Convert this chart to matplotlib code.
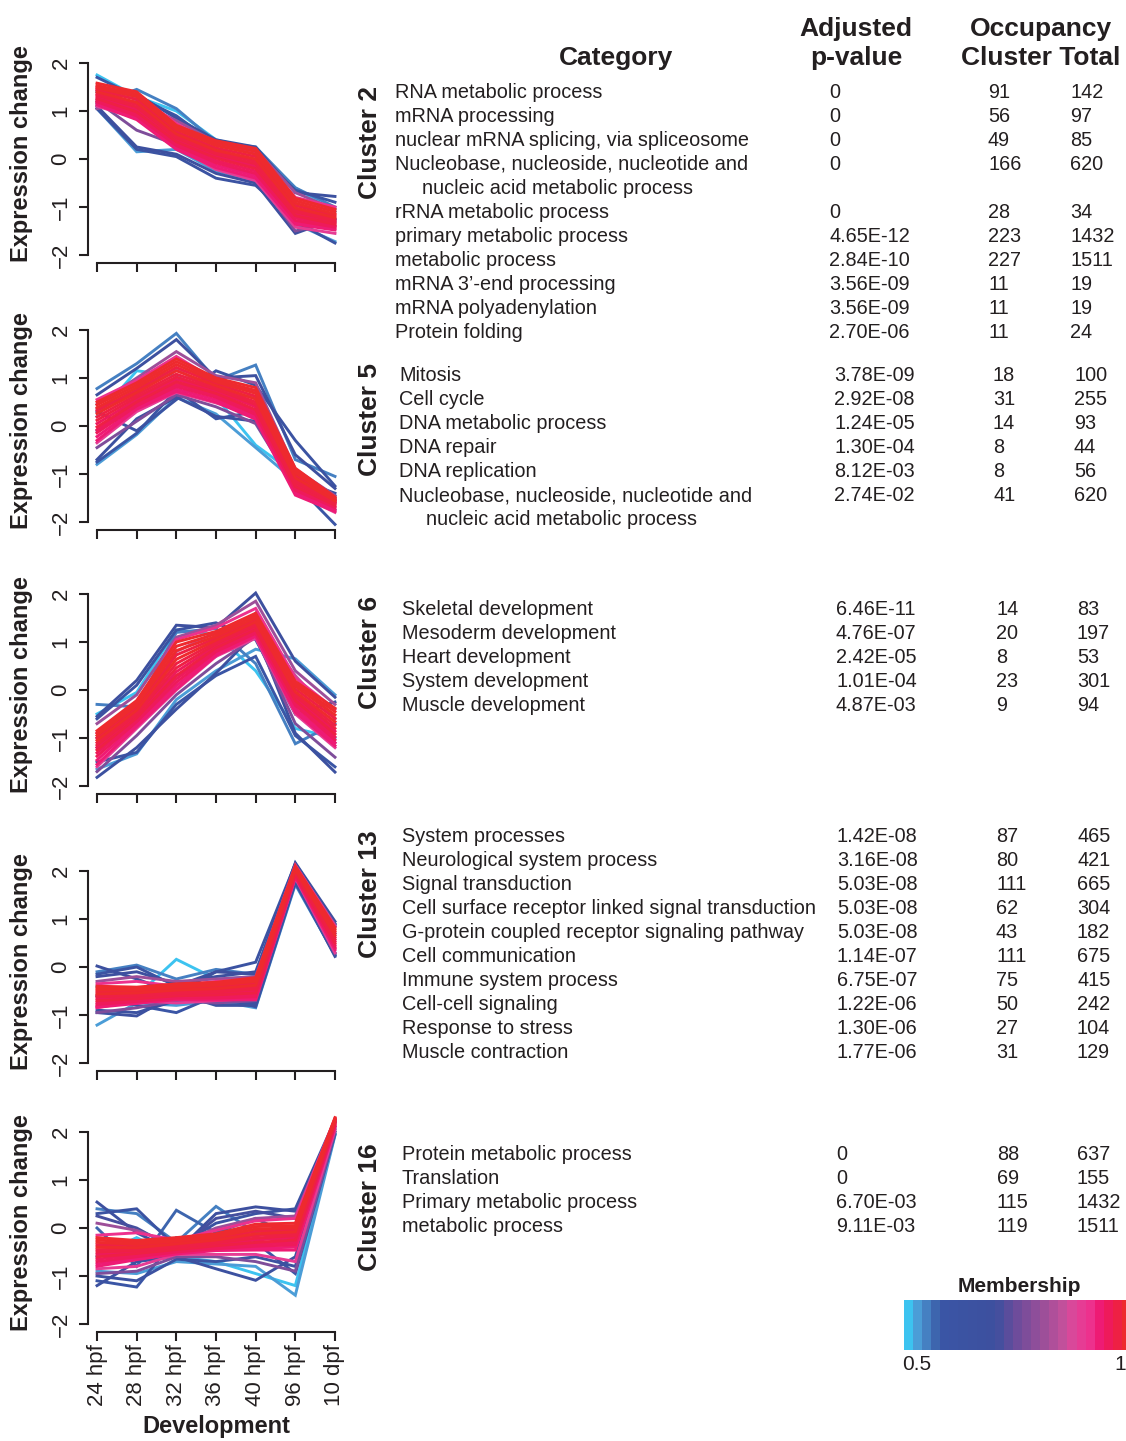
import numpy as np
import matplotlib.pyplot as plt
from matplotlib.colors import LinearSegmentedColormap, Normalize
from matplotlib.colorbar import ColorbarBase

plt.rcParams['font.family'] = ['Liberation Sans', 'DejaVu Sans']

stages = ["24 hpf", "28 hpf", "32 hpf", "36 hpf", "40 hpf", "96 hpf", "10 dpf"]

# expression profiles (one row = one gene), with membership
c2_membership = [1.0, 0.99, 0.98, 0.97, 0.96, 0.95, 0.94, 0.90, 0.88, 0.80, 0.76,
                 0.68, 0.66, 0.62, 0.60, 0.54, 0.52, 0.50,
                 0.985, 0.975, 0.965, 0.955, 0.945, 0.935, 0.85, 0.82]
c2_profiles = [
    [1.58, 1.40, 0.70, 0.38, 0.22, -0.82, -1.05],
    [1.48, 1.30, 0.62, 0.28, 0.10, -0.92, -1.15],
    [1.40, 1.18, 0.52, 0.18, 0.00, -1.02, -1.22],
    [1.33, 1.08, 0.44, 0.10, -0.10, -1.10, -1.30],
    [1.26, 0.98, 0.36, 0.02, -0.20, -1.18, -1.36],
    [1.19, 0.90, 0.28, -0.08, -0.30, -1.28, -1.42],
    [1.13, 0.82, 0.20, -0.18, -0.40, -1.36, -1.48],
    [1.50, 1.35, 0.74, 0.30, 0.15, -0.80, -1.00],
    [1.10, 0.85, 0.25, -0.22, -0.45, -1.42, -1.55],
    [1.05, 1.20, 0.80, 0.35, 0.20, -0.70, -1.05],
    [1.20, 0.60, 0.30, -0.05, -0.35, -1.50, -1.30],
    [1.10, 0.25, 0.10, -0.30, -0.50, -1.55, -1.25],
    [1.40, 1.35, 0.85, 0.40, 0.25, -0.70, -0.78],
    [1.05, 0.20, 0.05, -0.40, -0.55, -1.30, -1.75],
    [1.70, 1.30, 0.90, 0.30, 0.15, -0.65, -0.90],
    [1.15, 1.45, 1.05, 0.35, 0.25, -0.60, -1.00],
    [1.05, 0.15, 0.20, -0.25, -0.45, -1.35, -1.72],
    [1.75, 1.30, 1.00, 0.40, 0.20, -0.60, -1.10],
    [1.53, 1.35, 0.66, 0.33, 0.16, -0.87, -1.10],
    [1.44, 1.24, 0.57, 0.23, 0.05, -0.97, -1.18],
    [1.36, 1.13, 0.48, 0.14, -0.05, -1.06, -1.26],
    [1.30, 1.03, 0.40, 0.06, -0.15, -1.14, -1.33],
    [1.22, 0.94, 0.32, -0.03, -0.25, -1.23, -1.39],
    [1.16, 0.86, 0.24, -0.13, -0.35, -1.32, -1.45],
    [1.45, 1.25, 0.55, 0.20, -0.05, -1.05, -1.40],
    [1.25, 1.00, 0.45, 0.05, -0.15, -1.20, -1.25],
]

c5_membership = [1.0, 0.99, 0.98, 0.97, 0.96, 0.95, 0.94, 0.90, 0.88, 0.80, 0.76,
                 0.68, 0.66, 0.62, 0.60, 0.54, 0.52, 0.50,
                 0.985, 0.975, 0.965, 0.955, 0.945, 0.935, 0.85, 0.82]
c5_profiles = [
    [0.50, 0.90, 1.40, 1.00, 0.80, -0.88, -1.48],
    [0.38, 0.80, 1.28, 0.92, 0.68, -0.98, -1.52],
    [0.26, 0.70, 1.15, 0.84, 0.56, -1.08, -1.56],
    [0.12, 0.60, 1.02, 0.76, 0.45, -1.18, -1.60],
    [-0.02, 0.50, 0.92, 0.68, 0.34, -1.26, -1.65],
    [-0.14, 0.42, 0.82, 0.60, 0.24, -1.34, -1.70],
    [-0.30, 0.35, 0.72, 0.50, 0.14, -1.44, -1.78],
    [0.55, 0.95, 1.45, 0.95, 0.70, -1.00, -1.55],
    [-0.35, 0.30, 0.70, 0.48, 0.20, -1.40, -1.80],
    [0.45, 1.00, 1.55, 1.05, 0.90, -0.90, -1.45],
    [-0.45, 0.10, 0.65, 0.40, 0.05, -1.30, -1.75],
    [0.65, 1.20, 1.80, 1.00, 1.05, -0.60, -1.30],
    [-0.70, 0.15, 0.60, 0.20, 0.10, -1.10, -1.40],
    [0.30, -0.10, 0.55, 1.15, 0.85, -0.30, -1.25],
    [-0.75, -0.15, 0.75, 0.15, 0.30, -1.20, -2.05],
    [0.78, 1.30, 1.93, 0.95, 1.27, -0.70, -1.05],
    [-0.80, -0.18, 0.60, 0.25, -0.45, -1.15, -1.50],
    [0.20, 1.15, 1.05, 0.60, -0.40, -1.00, -1.45],
    [0.44, 0.85, 1.34, 0.96, 0.74, -0.93, -1.50],
    [0.32, 0.75, 1.22, 0.88, 0.62, -1.03, -1.54],
    [0.19, 0.65, 1.08, 0.80, 0.50, -1.13, -1.58],
    [0.05, 0.55, 0.97, 0.72, 0.40, -1.22, -1.62],
    [-0.08, 0.46, 0.87, 0.64, 0.29, -1.30, -1.68],
    [-0.22, 0.38, 0.77, 0.55, 0.19, -1.39, -1.74],
    [0.35, 0.70, 1.20, 0.70, 0.60, -1.25, -1.60],
    [-0.10, 0.55, 0.85, 0.85, 0.40, -1.15, -1.55],
]

c6_membership = [1.0, 0.99, 0.98, 0.97, 0.96, 0.95, 0.94, 0.90, 0.88, 0.80, 0.76,
                 0.68, 0.66, 0.62, 0.60, 0.54, 0.52, 0.50,
                 0.985, 0.975, 0.965, 0.955, 0.945, 0.935, 0.85, 0.82]
c6_profiles = [
    [-0.85, -0.22, 1.00, 1.22, 1.60, 0.18, -0.38],
    [-0.95, -0.32, 0.82, 1.12, 1.50, 0.08, -0.52],
    [-1.05, -0.42, 0.64, 1.04, 1.42, -0.04, -0.66],
    [-1.15, -0.50, 0.46, 0.96, 1.34, -0.12, -0.80],
    [-1.25, -0.58, 0.30, 0.88, 1.26, -0.22, -0.92],
    [-1.38, -0.66, 0.16, 0.80, 1.18, -0.32, -1.04],
    [-1.55, -0.76, 0.02, 0.72, 1.12, -0.46, -1.16],
    [-0.90, -0.30, 1.05, 1.30, 1.70, 0.25, -0.40],
    [-1.60, -0.80, 0.00, 0.70, 1.08, -0.50, -1.20],
    [-0.70, -0.10, 1.10, 1.35, 1.85, 0.40, -0.30],
    [-1.70, -0.95, -0.10, 0.55, 1.10, -0.70, -1.40],
    [-0.55, 0.20, 1.35, 1.30, 2.02, 0.60, -0.15],
    [-1.82, -1.20, -0.40, 0.35, 1.20, -0.90, -1.71],
    [-0.60, 0.10, 1.25, 1.40, 1.05, -0.50, -0.25],
    [-1.50, -1.30, -0.30, 0.30, 0.70, -0.95, -1.60],
    [-0.30, -0.35, 1.20, 1.28, 0.55, -1.12, -0.70],
    [-1.65, -1.33, -0.20, 0.40, 0.85, 0.65, -0.10],
    [-0.50, -0.05, 1.25, 1.15, 0.40, -0.80, -1.00],
    [-0.90, -0.27, 0.91, 1.17, 1.55, 0.13, -0.45],
    [-1.00, -0.37, 0.73, 1.08, 1.46, 0.02, -0.59],
    [-1.10, -0.46, 0.55, 1.00, 1.38, -0.08, -0.73],
    [-1.20, -0.54, 0.38, 0.92, 1.30, -0.17, -0.86],
    [-1.31, -0.62, 0.23, 0.84, 1.22, -0.27, -0.98],
    [-1.46, -0.71, 0.09, 0.76, 1.15, -0.39, -1.10],
    [-1.20, -0.70, 0.80, 1.20, 1.45, 0.30, -0.60],
    [-1.00, -0.40, 0.30, 0.70, 1.60, -0.40, -1.10],
]

c13_membership = [1.0, 0.99, 0.98, 0.97, 0.96, 0.95, 0.94, 0.90, 0.88, 0.80, 0.76,
                  0.68, 0.66, 0.62, 0.60, 0.54, 0.52, 0.50,
                  0.985, 0.975, 0.965, 0.955, 0.945, 0.935, 0.70, 0.64]
c13_profiles = [
    [-0.40, -0.42, -0.35, -0.32, -0.22, 2.10, 0.82],
    [-0.48, -0.48, -0.42, -0.38, -0.30, 2.06, 0.74],
    [-0.56, -0.54, -0.48, -0.45, -0.38, 2.02, 0.66],
    [-0.62, -0.60, -0.54, -0.52, -0.46, 1.98, 0.58],
    [-0.70, -0.66, -0.60, -0.58, -0.54, 1.94, 0.50],
    [-0.78, -0.72, -0.65, -0.65, -0.62, 1.90, 0.42],
    [-0.84, -0.76, -0.68, -0.69, -0.68, 1.88, 0.36],
    [-0.35, -0.30, -0.40, -0.30, -0.25, 2.12, 0.85],
    [-0.85, -0.70, -0.75, -0.70, -0.65, 1.86, 0.30],
    [-0.30, -0.20, -0.30, -0.25, -0.20, 2.10, 0.88],
    [-0.95, -0.85, -0.70, -0.75, -0.70, 1.85, 0.28],
    [0.02, -0.25, -0.55, -0.10, -0.15, 2.17, 0.95],
    [-0.95, -1.02, -0.55, -0.80, -0.80, 1.80, 0.22],
    [-0.15, 0.00, -0.40, -0.10, 0.10, 2.15, 0.90],
    [-0.60, -0.80, -0.95, -0.60, -0.83, 1.75, 0.25],
    [-0.10, 0.04, -0.25, -0.05, -0.15, 2.15, 0.90],
    [-1.21, -0.75, -0.80, -0.70, -0.85, 1.72, 0.25],
    [-0.40, -0.60, 0.16, -0.25, -0.20, 2.05, 0.70],
    [-0.44, -0.45, -0.38, -0.35, -0.26, 2.08, 0.78],
    [-0.52, -0.51, -0.45, -0.41, -0.34, 2.04, 0.70],
    [-0.59, -0.57, -0.51, -0.48, -0.42, 2.00, 0.62],
    [-0.66, -0.63, -0.57, -0.55, -0.50, 1.96, 0.54],
    [-0.74, -0.69, -0.62, -0.61, -0.58, 1.92, 0.46],
    [-0.81, -0.74, -0.66, -0.67, -0.65, 1.89, 0.39],
    [-0.20, -0.10, -0.35, -0.20, -0.10, 2.12, 0.85],
    [-0.90, -0.95, -0.70, -0.72, -0.75, 1.82, 0.30],
]

c16_membership = [1.0, 0.99, 0.98, 0.97, 0.96, 0.95, 0.94, 0.90, 0.88, 0.80, 0.76,
                  0.68, 0.66, 0.62, 0.60, 0.58, 0.54, 0.52, 0.50,
                  0.985, 0.975, 0.965, 0.955, 0.945, 0.935, 0.72, 0.65]
c16_profiles = [
    [-0.20, -0.26, -0.20, -0.12, 0.08, 0.10, 2.30],
    [-0.30, -0.34, -0.27, -0.19, -0.02, 0.00, 2.27],
    [-0.40, -0.41, -0.33, -0.25, -0.12, -0.08, 2.24],
    [-0.50, -0.47, -0.39, -0.31, -0.21, -0.16, 2.21],
    [-0.60, -0.53, -0.45, -0.37, -0.30, -0.25, 2.18],
    [-0.70, -0.60, -0.50, -0.43, -0.38, -0.35, 2.14],
    [-0.80, -0.66, -0.54, -0.47, -0.46, -0.46, 2.10],
    [-0.15, -0.10, -0.25, -0.05, 0.15, 0.20, 2.28],
    [-0.85, -0.80, -0.55, -0.55, -0.55, -0.70, 2.05],
    [0.10, -0.05, -0.35, 0.00, 0.20, 0.25, 2.25],
    [-0.95, -0.90, -0.60, -0.60, -0.70, -0.90, 2.00],
    [0.54, -0.10, -0.50, 0.30, 0.44, 0.35, 2.20],
    [-1.20, -0.70, -0.60, -0.85, -1.09, -0.60, 2.05],
    [0.30, 0.40, -0.40, 0.10, 0.30, 0.40, 2.25],
    [-1.10, -1.23, -0.20, -0.40, -0.30, -0.95, 1.95],
    [0.00, -0.80, 0.37, -0.10, 0.20, -0.20, 2.10],
    [0.40, 0.30, -0.30, 0.45, -0.10, -0.30, 2.20],
    [-0.90, -0.95, -0.70, -0.75, -0.80, -1.40, 1.93],
    [-0.60, -0.20, -0.60, -0.70, -0.95, -1.20, 1.95],
    [-0.25, -0.30, -0.23, -0.15, 0.03, 0.05, 2.28],
    [-0.35, -0.37, -0.30, -0.22, -0.07, -0.04, 2.25],
    [-0.45, -0.44, -0.36, -0.28, -0.16, -0.12, 2.22],
    [-0.55, -0.50, -0.42, -0.34, -0.25, -0.20, 2.19],
    [-0.65, -0.56, -0.47, -0.40, -0.34, -0.30, 2.16],
    [-0.75, -0.63, -0.52, -0.45, -0.42, -0.40, 2.12],
    [0.25, 0.00, -0.45, 0.20, 0.35, 0.20, 2.22],
    [-1.00, -1.10, -0.65, -0.70, -0.60, -0.80, 2.00],
]

# GO enrichment table
cluster_names = ["Cluster 2", "Cluster 5", "Cluster 6", "Cluster 13", "Cluster 16"]

c2_categories = ["RNA metabolic process", "mRNA processing",
                 "nuclear mRNA splicing, via spliceosome",
                 "Nucleobase, nucleoside, nucleotide and\nnucleic acid metabolic process",
                 "rRNA metabolic process", "primary metabolic process", "metabolic process",
                 "mRNA 3\u2019-end processing", "mRNA polyadenylation", "Protein folding"]
c2_pvalues = ["0", "0", "0", "0", "0", "4.65E-12", "2.84E-10", "3.56E-09", "3.56E-09", "2.70E-06"]
c2_cluster = [91, 56, 49, 166, 28, 223, 227, 11, 11, 11]
c2_total = [142, 97, 85, 620, 34, 1432, 1511, 19, 19, 24]

c5_categories = ["Mitosis", "Cell cycle", "DNA metabolic process", "DNA repair", "DNA replication",
                 "Nucleobase, nucleoside, nucleotide and\nnucleic acid metabolic process"]
c5_pvalues = ["3.78E-09", "2.92E-08", "1.24E-05", "1.30E-04", "8.12E-03", "2.74E-02"]
c5_cluster = [18, 31, 14, 8, 8, 41]
c5_total = [100, 255, 93, 44, 56, 620]

c6_categories = ["Skeletal development", "Mesoderm development", "Heart development",
                 "System development", "Muscle development"]
c6_pvalues = ["6.46E-11", "4.76E-07", "2.42E-05", "1.01E-04", "4.87E-03"]
c6_cluster = [14, 20, 8, 23, 9]
c6_total = [83, 197, 53, 301, 94]

c13_categories = ["System processes", "Neurological system process", "Signal transduction",
                  "Cell surface receptor linked signal transduction",
                  "G-protein coupled receptor signaling pathway", "Cell communication",
                  "Immune system process", "Cell-cell signaling", "Response to stress",
                  "Muscle contraction"]
c13_pvalues = ["1.42E-08", "3.16E-08", "5.03E-08", "5.03E-08", "5.03E-08", "1.14E-07",
               "6.75E-07", "1.22E-06", "1.30E-06", "1.77E-06"]
c13_cluster = [87, 80, 111, 62, 43, 111, 75, 50, 27, 31]
c13_total = [465, 421, 665, 304, 182, 675, 415, 242, 104, 129]

c16_categories = ["Protein metabolic process", "Translation", "Primary metabolic process",
                  "metabolic process"]
c16_pvalues = ["0", "0", "6.70E-03", "9.11E-03"]
c16_cluster = [88, 69, 115, 119]
c16_total = [637, 155, 1432, 1511]

panels = [(c2_membership, c2_profiles), (c5_membership, c5_profiles),
          (c6_membership, c6_profiles), (c13_membership, c13_profiles),
          (c16_membership, c16_profiles)]
tables = [(c2_categories, c2_pvalues, c2_cluster, c2_total),
          (c5_categories, c5_pvalues, c5_cluster, c5_total),
          (c6_categories, c6_pvalues, c6_cluster, c6_total),
          (c13_categories, c13_pvalues, c13_cluster, c13_total),
          (c16_categories, c16_pvalues, c16_cluster, c16_total)]

# membership colour scale (cyan -> blue -> purple -> pink -> red)
cmap = LinearSegmentedColormap.from_list("membership", [
    (0.00, "#3CC3F0"), (0.04, "#4B9ED8"), (0.08, "#4682C4"), (0.13, "#3C62AC"),
    (0.16, "#3A55A5"), (0.40, "#3D4F9E"), (0.50, "#6E4C9B"), (0.64, "#A34F99"),
    (0.72, "#C6509B"), (0.76, "#E0459A"), (0.84, "#EE2F8C"), (0.88, "#EE1870"),
    (0.94, "#EE1C4E"), (1.00, "#EE2A2E")], N=25)
norm = Normalize(0.5, 1.0)

W, H = 1126, 1441
fig = plt.figure(figsize=(W / 100, H / 100), dpi=100)

# panel layout in pixels
zero_px = [159, 426, 690, 967, 1228]
ax_left, ax_width = 87.5, 257
ylim = (-2.17, 2.5)
ppu = 48
x = np.arange(1, 8)

for i, (memb, profiles) in enumerate(panels):
    top = zero_px[i] - ylim[1] * ppu
    height = (ylim[1] - ylim[0]) * ppu
    ax = fig.add_axes([ax_left / W, 1 - (top + height) / H, ax_width / W, height / H])
    for j in np.argsort(memb, kind="stable"):
        ax.plot(x, profiles[j], color=cmap(norm(memb[j])), lw=2.1, solid_joinstyle="miter")
    ax.set_xlim(0.76, 7.24)
    ax.set_ylim(ylim)
    ax.patch.set_visible(False)
    for s in ["top", "right"]:
        ax.spines[s].set_visible(False)
    ax.spines["left"].set_bounds(-2, 2)
    ax.spines["bottom"].set_bounds(1, 7)
    for s in ["left", "bottom"]:
        ax.spines[s].set_linewidth(1.5)
        ax.spines[s].set_color("#231F20")
    ax.set_yticks([-2, -1, 0, 1, 2])
    ax.set_xticks(x)
    ax.tick_params(direction="out", length=6.5, width=1.5, color="#231F20",
                   labelsize=16, labelcolor="#231F20")
    ax.tick_params(axis="y", pad=5)
    for lab in ax.get_yticklabels():
        lab.set_rotation(90)
        lab.set_va("center")
    if i == len(panels) - 1:
        ax.set_xticklabels(stages, rotation=90, va="top", ha="center")
        ax.tick_params(axis="x", pad=2)
    else:
        ax.set_xticklabels([])

# text overlay in pixel coordinates
ov = fig.add_axes([0, 0, 1, 1])
ov.set_xlim(0, W)
ov.set_ylim(H, 0)
ov.set_axis_off()

ink = "#231F20"
for i in range(len(panels)):
    ov.text(22, zero_px[i] - 5, "Expression change", rotation=90, ha="center", va="center",
            fontsize=17, fontweight="bold", color=ink)
ov.text(216, 1427, "Development", ha="center", va="center", fontsize=17,
        fontweight="bold", color=ink)

# table headers
hdr = dict(fontsize=19, fontweight="bold", color=ink, ha="center", va="baseline")
ov.text(616, 65, "Category", **hdr)
ov.text(856, 36, "Adjusted", **hdr)
ov.text(856, 65, "p-value", **hdr)
ov.text(1041, 36, "Occupancy", **hdr)
ov.text(1041, 65, "Cluster Total", **hdr)

# per block: first row centre, cluster label top, column left edges
first_row = [91, 374, 608, 835, 1153]
label_top = [86, 363, 596, 830, 1143]
col_x = [(395, 829, 988, 1070), (399, 834, 993, 1074), (402, 836, 996, 1077),
         (402, 837, 996, 1077), (402, 836, 997, 1077)]
row_step = 24
indent = 27
cell = dict(fontsize=14.3, color=ink, ha="left", va="baseline")

for b, (cats, pv, cnt, tot) in enumerate(tables):
    cx, px, nx, tx = col_x[b]
    ov.text(370, label_top[b], cluster_names[b], rotation=90, ha="center", va="top",
            fontsize=19, fontweight="bold", color=ink)
    row = 0
    for k in range(len(cats)):
        yb = first_row[b] + row * row_step + 7
        lines = cats[k].split("\n")
        ov.text(cx, yb, lines[0], **cell)
        ov.text(px, yb, pv[k], **cell)
        ov.text(nx, yb, str(cnt[k]), **cell)
        ov.text(tx, yb, str(tot[k]), **cell)
        for extra in lines[1:]:
            row += 1
            ov.text(cx + indent, first_row[b] + row * row_step + 7, extra, **cell)
        row += 1

# membership colour bar
cax = fig.add_axes([904 / W, 1 - 1350 / H, 227 / W, 50 / H])
cb = ColorbarBase(cax, cmap=cmap, norm=norm, orientation="horizontal")
cb.outline.set_visible(False)
cb.set_ticks([])
ov.text(1019, 1292, "Membership", ha="center", va="baseline", fontsize=15,
        fontweight="bold", color=ink)
ov.text(917, 1370, "0.5", ha="center", va="baseline", fontsize=15, color=ink)
ov.text(1120, 1370, "1", ha="center", va="baseline", fontsize=15, color=ink)

fig.savefig("out.png", dpi=100)
